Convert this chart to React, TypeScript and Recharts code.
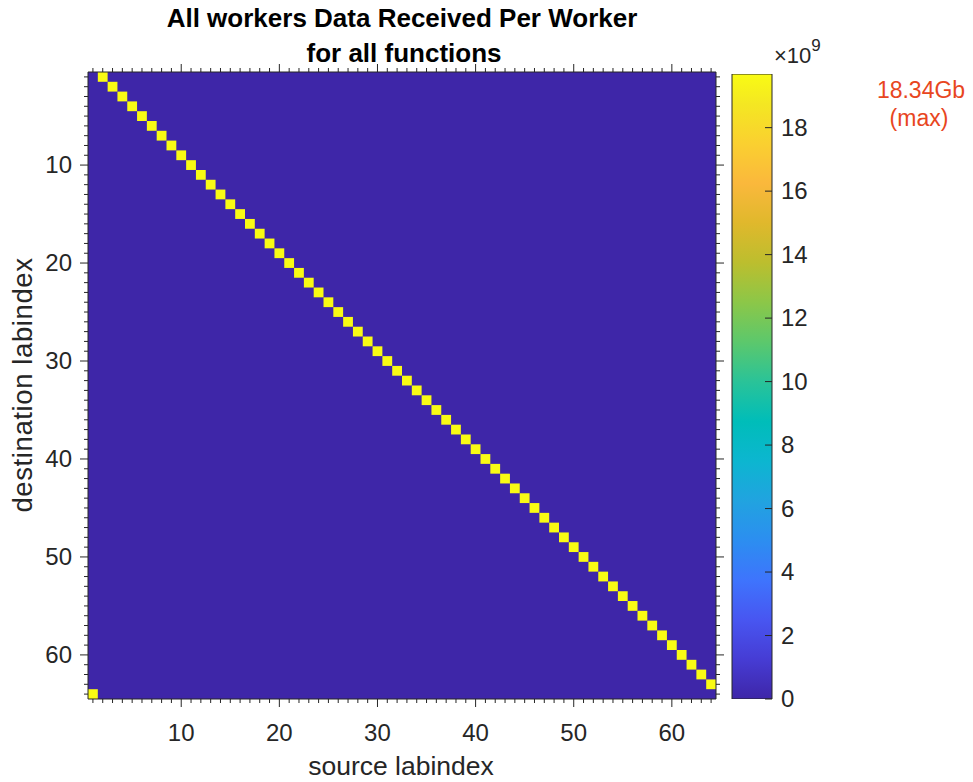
import React from 'react';
import { ScatterChart, Scatter, XAxis, YAxis, ReferenceArea, BarChart, Bar } from 'recharts';

const FONT = '"Liberation Sans", Arial, Helvetica, sans-serif';
const AXIS = '#262626';

// source labindex (column) of each non-zero cell
const sourceLabindex = [
  2, 3, 4, 5, 6, 7, 8, 9, 10, 11, 12, 13, 14, 15, 16, 17,
  18, 19, 20, 21, 22, 23, 24, 25, 26, 27, 28, 29, 30, 31, 32, 33,
  34, 35, 36, 37, 38, 39, 40, 41, 42, 43, 44, 45, 46, 47, 48, 49,
  50, 51, 52, 53, 54, 55, 56, 57, 58, 59, 60, 61, 62, 63, 64, 1,
];
// destination labindex (row) of each non-zero cell
const destinationLabindex = [
  1, 2, 3, 4, 5, 6, 7, 8, 9, 10, 11, 12, 13, 14, 15, 16,
  17, 18, 19, 20, 21, 22, 23, 24, 25, 26, 27, 28, 29, 30, 31, 32,
  33, 34, 35, 36, 37, 38, 39, 40, 41, 42, 43, 44, 45, 46, 47, 48,
  49, 50, 51, 52, 53, 54, 55, 56, 57, 58, 59, 60, 61, 62, 63, 64,
];
// data received (x 1e9 bytes)
const dataReceivedE9 = [
  19.69, 19.69, 19.69, 19.69, 19.69, 19.69, 19.69, 19.69, 19.69, 19.69, 19.69, 19.69, 19.69, 19.69, 19.69, 19.69,
  19.69, 19.69, 19.69, 19.69, 19.69, 19.69, 19.69, 19.69, 19.69, 19.69, 19.69, 19.69, 19.69, 19.69, 19.69, 19.69,
  19.69, 19.69, 19.69, 19.69, 19.69, 19.69, 19.69, 19.69, 19.69, 19.69, 19.69, 19.69, 19.69, 19.69, 19.69, 19.69,
  19.69, 19.69, 19.69, 19.69, 19.69, 19.69, 19.69, 19.69, 19.69, 19.69, 19.69, 19.69, 19.69, 19.69, 19.69, 19.69,
];
const backgroundValue = 0;

const gridTicks = [
  1, 2, 3, 4, 5, 6, 7, 8, 9, 10, 11, 12, 13, 14, 15, 16,
  17, 18, 19, 20, 21, 22, 23, 24, 25, 26, 27, 28, 29, 30, 31, 32,
  33, 34, 35, 36, 37, 38, 39, 40, 41, 42, 43, 44, 45, 46, 47, 48,
  49, 50, 51, 52, 53, 54, 55, 56, 57, 58, 59, 60, 61, 62, 63, 64,
];
const majorTicks = [10, 20, 30, 40, 50, 60];
const colorbarTicks = [0, 2, 4, 6, 8, 10, 12, 14, 16, 18];
const colorMax = 19.69;
const maxLabel = '18.34Gb';

const PARULA: [number, [number, number, number]][] = [
  [0.0, [62, 38, 168]],
  [0.063, [70, 60, 212]],
  [0.127, [72, 86, 241]],
  [0.19, [62, 116, 253]],
  [0.254, [44, 142, 240]],
  [0.317, [33, 163, 224]],
  [0.381, [12, 182, 208]],
  [0.444, [0, 189, 185]],
  [0.508, [42, 195, 152]],
  [0.571, [92, 200, 108]],
  [0.635, [140, 199, 72]],
  [0.698, [188, 190, 46]],
  [0.762, [224, 184, 44]],
  [0.825, [250, 184, 60]],
  [0.889, [250, 208, 48]],
  [0.952, [244, 231, 34]],
  [1.0, [249, 251, 20]],
];

function rgb(c: number[]) {
  return `rgb(${Math.round(c[0])},${Math.round(c[1])},${Math.round(c[2])})`;
}
function parula(t: number) {
  const v = Math.max(0, Math.min(1, t));
  for (let i = 1; i < PARULA.length; i++) {
    const [t1, c1] = PARULA[i];
    const [t0, c0] = PARULA[i - 1];
    if (v <= t1) {
      const f = (v - t0) / (t1 - t0);
      return rgb([0, 1, 2].map((k) => c0[k] + (c1[k] - c0[k]) * f));
    }
  }
  return rgb(PARULA[PARULA.length - 1][1]);
}

const cells = sourceLabindex.map((s, i) => ({
  src: s,
  dst: destinationLabindex[i],
  value: dataReceivedE9[i],
}));

const TICK_FS = 24;

const BottomTick = (props: any) => {
  const { x, y, payload } = props;
  const major = majorTicks.includes(payload.value);
  return (
    <g>
      <line x1={x} x2={x} y1={y} y2={y + (major ? 8 : 4)} stroke={AXIS} strokeWidth={1} />
      {major && (
        <text x={x} y={y + 42} textAnchor="middle" fontSize={TICK_FS} fontFamily={FONT} fill={AXIS}>
          {payload.value}
        </text>
      )}
    </g>
  );
};
const TopTick = (props: any) => {
  const { x, y, payload } = props;
  const major = majorTicks.includes(payload.value);
  return <line x1={x} x2={x} y1={y} y2={y - (major ? 8 : 4)} stroke={AXIS} strokeWidth={1} />;
};
const LeftTick = (props: any) => {
  const { x, y, payload } = props;
  const major = majorTicks.includes(payload.value);
  return (
    <g>
      <line x1={x} x2={x - (major ? 8 : 4)} y1={y} y2={y} stroke={AXIS} strokeWidth={1} />
      {major && (
        <text x={x - 16} y={y + 8} textAnchor="end" fontSize={TICK_FS} fontFamily={FONT} fill={AXIS}>
          {payload.value}
        </text>
      )}
    </g>
  );
};
const RightTick = (props: any) => {
  const { x, y, payload } = props;
  const major = majorTicks.includes(payload.value);
  return <line x1={x} x2={x + (major ? 8 : 4)} y1={y} y2={y} stroke={AXIS} strokeWidth={1} />;
};
const ColorbarTick = (props: any) => {
  const { x, y, payload } = props;
  return (
    <g>
      <line x1={x} x2={x - 7} y1={y} y2={y} stroke={AXIS} strokeWidth={1} />
      <text x={x + 9} y={y + 8} textAnchor="start" fontSize={TICK_FS} fontFamily={FONT} fill={AXIS}>
        {payload.value}
      </text>
    </g>
  );
};

const W = 973;
const H = 782;

export default function App() {
  return (
    <div style={{ position: 'absolute', left: 0, top: 0, width: W, height: H, background: '#fff' }}>
      <div style={{ position: 'absolute', left: 0, top: 0 }}>
        <ScatterChart width={W} height={H} margin={{ top: 0, right: 0, bottom: 0, left: 0 }}>
          <XAxis
            xAxisId="b"
            type="number"
            dataKey="src"
            orientation="bottom"
            domain={[0.5, 64.5]}
            ticks={gridTicks}
            interval={0}
            height={83}
            axisLine={false}
            tickLine={false}
            tickSize={0}
            tickMargin={0}
            tick={<BottomTick />}
            allowDataOverflow
          />
          <XAxis
            xAxisId="t"
            type="number"
            dataKey="src"
            orientation="top"
            domain={[0.5, 64.5]}
            ticks={gridTicks}
            interval={0}
            height={72}
            axisLine={false}
            tickLine={false}
            tickSize={0}
            tickMargin={0}
            tick={<TopTick />}
            allowDataOverflow
          />
          <YAxis
            yAxisId="l"
            type="number"
            dataKey="dst"
            orientation="left"
            reversed
            domain={[0.5, 64.5]}
            ticks={gridTicks}
            interval={0}
            width={88}
            axisLine={false}
            tickLine={false}
            tickSize={0}
            tickMargin={0}
            tick={<LeftTick />}
            allowDataOverflow
          />
          <YAxis
            yAxisId="r"
            type="number"
            dataKey="dst"
            orientation="right"
            reversed
            domain={[0.5, 64.5]}
            ticks={gridTicks}
            interval={0}
            width={257}
            axisLine={false}
            tickLine={false}
            tickSize={0}
            tickMargin={0}
            tick={<RightTick />}
            allowDataOverflow
          />
          <ReferenceArea
            xAxisId="b"
            yAxisId="l"
            x1={0.5}
            x2={64.5}
            y1={0.5}
            y2={64.5}
            fill={parula(backgroundValue / colorMax)}
            fillOpacity={1}
            stroke="none"
          />
          {cells.map((c, i) => (
            <ReferenceArea
              key={i}
              xAxisId="b"
              yAxisId="l"
              x1={c.src - 0.5}
              x2={c.src + 0.5}
              y1={c.dst - 0.5}
              y2={c.dst + 0.5}
              fill={parula(c.value / colorMax)}
              fillOpacity={1}
              stroke="none"
            />
          ))}
          <ReferenceArea
            xAxisId="b"
            yAxisId="l"
            x1={0.5}
            x2={64.5}
            y1={0.5}
            y2={64.5}
            fill="none"
            fillOpacity={0}
            stroke={AXIS}
            strokeWidth={1}
          />
          <Scatter
            xAxisId="b"
            yAxisId="l"
            data={cells}
            dataKey="dst"
            shape={() => <g />}
            isAnimationActive={false}
          />
        </ScatterChart>
      </div>
      <div style={{ position: 'absolute', left: 0, top: 0 }}>
        <BarChart
          width={W}
          height={H}
          data={[{ name: 'colorbar', v: colorMax }]}
          margin={{ top: 74, right: 0, bottom: 83, left: 732 }}
          barCategoryGap={0}
        >
          <XAxis dataKey="name" hide />
          <YAxis
            type="number"
            orientation="right"
            width={201}
            domain={[0, colorMax]}
            ticks={colorbarTicks}
            interval={0}
            axisLine={false}
            tickLine={false}
            tickSize={0}
            tickMargin={0}
            tick={<ColorbarTick />}
            allowDataOverflow
          />
          <Bar dataKey="v" fill="url(#parulaGrad)" stroke={AXIS} strokeWidth={1} isAnimationActive={false} />
        </BarChart>
      </div>
      <svg width={W} height={H} style={{ position: 'absolute', left: 0, top: 0, pointerEvents: 'none' }}>
        <defs>
          <linearGradient id="parulaGrad" x1="0" y1="1" x2="0" y2="0">
            {PARULA.map(([t, c], i) => (
              <stop key={i} offset={t} stopColor={rgb(c)} />
            ))}
          </linearGradient>
        </defs>
        <text x={402} y={27} textAnchor="middle" fontSize={26} fontWeight="bold" fontFamily={FONT} fill="#000">
          All workers Data Received Per Worker
        </text>
        <text x={404} y={62} textAnchor="middle" fontSize={26} fontWeight="bold" fontFamily={FONT} fill="#000">
          for all functions
        </text>
        <text x={401} y={775} textAnchor="middle" fontSize={26.5} fontFamily={FONT} fill={AXIS}>
          source labindex
        </text>
        <text
          transform="translate(32,385) rotate(-90)"
          textAnchor="middle"
          fontSize={27.5}
          letterSpacing={0.6}
          fontFamily={FONT}
          fill={AXIS}
        >
          destination labindex
        </text>
        <text x={774} y={63} fontSize={22} fontFamily={FONT} fill={AXIS}>
          ×10
          <tspan dy={-12} fontSize={17}>9</tspan>
        </text>
        <text x={921} y={98} textAnchor="middle" fontSize={23} fontFamily={FONT} fill="#E8461E">
          {maxLabel}
        </text>
        <text x={919} y={126} textAnchor="middle" fontSize={23} fontFamily={FONT} fill="#E8461E">
          (max)
        </text>
      </svg>
    </div>
  );
}
